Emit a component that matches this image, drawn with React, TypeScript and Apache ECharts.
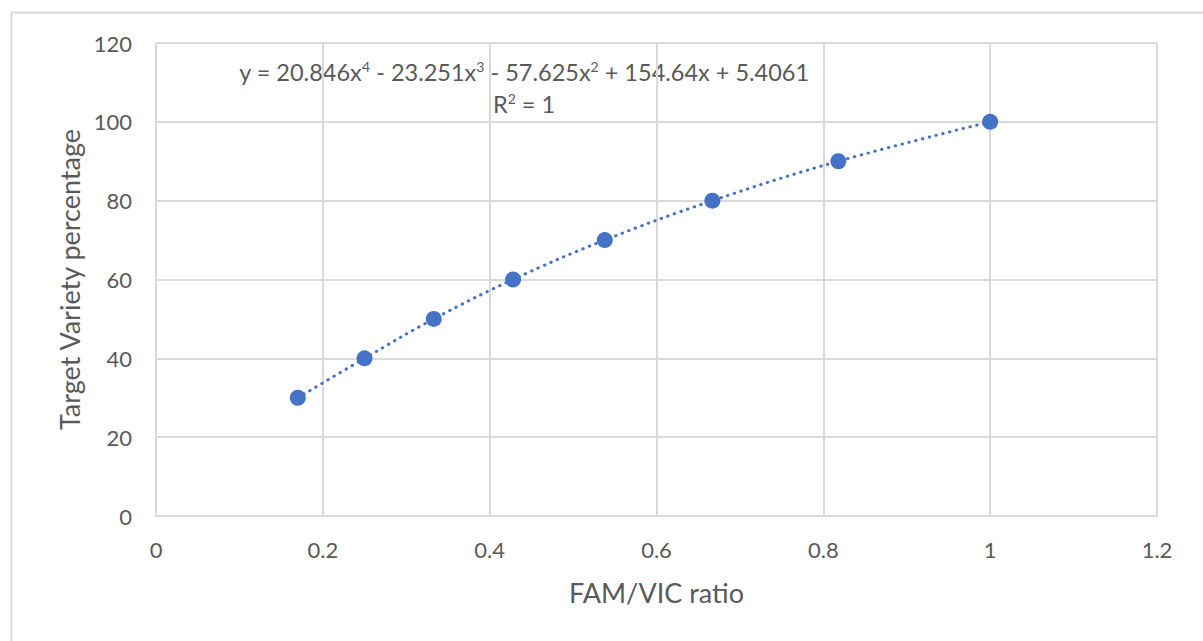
import React, { useEffect, useRef } from "react";
import * as echarts from "echarts";

const ratioValues = [0.17, 0.25, 0.333, 0.428, 0.538, 0.667, 0.818, 1.0];
const targetPercent = [30, 40, 50, 60, 70, 80, 90, 100];
const equationText = "y = 20.846x{sup|4} - 23.251x{sup|3} - 57.625x{sup|2} + 154.64x + 5.4061";
const rSquaredText = "R{sup|2} = 1";
const xAxisTitle = "FAM/VIC ratio";
const yAxisTitle = "Target Variety percentage";

const BLUE = "#4472C4";
const GRAY_TEXT = "#595959";
const GRID = "#d9d9d9";
const FONT = "Lato, 'Open Sans', sans-serif";

export default function App() {
  const ref = useRef<HTMLDivElement>(null);
  useEffect(() => {
    document.body.style.margin = "0";
    const chart = echarts.init(ref.current!, null, { renderer: "svg" });
    const pts = ratioValues.map((x, i) => [x, targetPercent[i]]);
    const supStyle = { fontSize: 14, verticalAlign: "top", fill: GRAY_TEXT, fontFamily: FONT, padding: [0, 0, 11, 0] };
    chart.setOption({
      animation: false,
      backgroundColor: "#ffffff",
      grid: { left: 156, top: 43, right: 46, bottom: 125 },
      xAxis: {
        type: "value",
        min: 0,
        max: 1.2,
        interval: 0.2,
        name: xAxisTitle,
        nameLocation: "middle",
        nameGap: 63,
        nameTextStyle: { color: GRAY_TEXT, fontSize: 27, fontFamily: FONT },
        axisLine: { show: true, lineStyle: { color: GRID, width: 2 } },
        axisTick: { show: false },
        axisLabel: {
          color: GRAY_TEXT,
          fontSize: 22,
          fontFamily: FONT,
          margin: 22,
          formatter: (v: number) => String(Math.round(v * 10) / 10),
        },
        splitLine: { show: true, lineStyle: { color: GRID, width: 2 } },
      },
      yAxis: {
        type: "value",
        min: 0,
        max: 120,
        interval: 20,
        name: yAxisTitle,
        nameLocation: "middle",
        nameGap: 72,
        nameTextStyle: { color: GRAY_TEXT, fontSize: 27, fontFamily: FONT },
        axisLine: { show: false },
        axisTick: { show: false },
        axisLabel: { color: GRAY_TEXT, fontSize: 22, fontFamily: FONT, margin: 24 },
        splitLine: { show: true, lineStyle: { color: GRID, width: 2 } },
      },
      graphic: [
        {
          type: "rect",
          left: 9,
          top: 10,
          shape: { width: 1300, height: 700 },
          style: { fill: "none", stroke: GRID, lineWidth: 2 },
          silent: true,
          z: -10,
        },
        {
          type: "text",
          x: 524,
          y: 72,
          style: {
            text: equationText,
            align: "center",
            verticalAlign: "middle",
            fill: GRAY_TEXT,
            fontSize: 23.5,
            fontFamily: FONT,
            rich: { sup: supStyle },
          },
        },
        {
          type: "text",
          x: 524,
          y: 104,
          style: {
            text: rSquaredText,
            align: "center",
            verticalAlign: "middle",
            fill: GRAY_TEXT,
            fontSize: 23.5,
            fontFamily: FONT,
            rich: { sup: supStyle },
          },
        },
      ],
      series: [
        {
          type: "line",
          data: pts,
          smooth: 0.4,
          showSymbol: false,
          lineStyle: { color: BLUE, width: 3, type: [0.5, 6.5], cap: "round" },
          z: 1,
        },
        {
          type: "scatter",
          data: pts,
          symbolSize: 16,
          itemStyle: { color: BLUE, opacity: 1 },
          z: 2,
        },
      ],
    });
    return () => chart.dispose();
  }, []);
  return <div ref={ref} style={{ width: 1203, height: 641 }} />;
}
